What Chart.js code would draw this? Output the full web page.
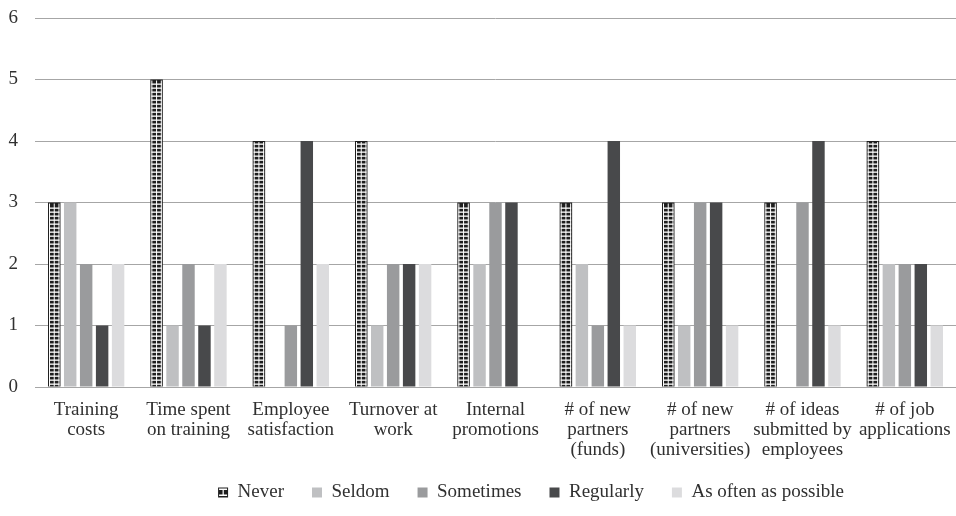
<!DOCTYPE html>
<html>
<head>
<meta charset="utf-8">
<script src="https://cdn.jsdelivr.net/npm/chart.js@4/dist/chart.umd.min.js"></script>
<style>
  html, body { margin: 0; padding: 0; background: #ffffff; }
  #wrap { width: 956px; height: 516px; position: relative; }
</style>
</head>
<body>
<div id="wrap"><canvas id="chart"></canvas></div>
<script>
// Indicators on the x axis (each an array of wrapped lines)
const categories = [
  ["Training", "costs"],
  ["Time spent", "on training"],
  ["Employee", "satisfaction"],
  ["Turnover at", "work"],
  ["Internal", "promotions"],
  ["# of new", "partners", "(funds)"],
  ["# of new", "partners", "(universities)"],
  ["# of ideas", "submitted by", "employees"],
  ["# of job", "applications"]
];

const seriesNames = ["Never", "Seldom", "Sometimes", "Regularly", "As often as possible"];

// Number of responses per frequency answer
const never      = [3, 5, 4, 4, 3, 3, 3, 3, 4];
const seldom     = [3, 1, 0, 1, 2, 2, 1, 0, 2];
const sometimes  = [2, 2, 1, 2, 3, 1, 3, 3, 2];
const regularly  = [1, 1, 4, 2, 3, 4, 3, 4, 2];
const asOften    = [2, 2, 2, 2, 0, 1, 1, 1, 1];

const yTicks = [0, 1, 2, 3, 4, 5, 6];

const fills = ['#1e1e1e', '#bfc0c2', '#9a9b9d', '#48494b', '#dcdcde'];
const values = [never, seldom, sometimes, regularly, asOften];

const font = { family: "'Liberation Serif', 'Times New Roman', serif", size: 19, lineHeight: 1.05 };
const textColor = '#303030';

const LEGEND_TRIM = 10;   // vertical space removed from the legend box
const LEGEND_SHIFT = 53;  // horizontal offset of the legend row

// Legend placement tweaks plus the white cross-hatch on the "Never" bars
const crossHatch = {
  id: 'crossHatch',
  beforeLayout(chart) {
    const lg = chart.legend;
    if (lg && !lg._trimmed) {
      const fit = lg.fit;
      lg.fit = function () { fit.call(this); this.height = Math.max(0, this.height - LEGEND_TRIM); };
      lg._trimmed = true;
    }
  },
  afterLayout(chart) {
    const lg = chart.legend;
    if (!lg) return;
    lg.top -= LEGEND_TRIM; lg.bottom -= LEGEND_TRIM;
    lg.left += LEGEND_SHIFT; lg.right += LEGEND_SHIFT;
  },
  afterDatasetDraw(chart, args) {
    if (args.index !== 0) return;
    const ctx = chart.ctx;
    ctx.save();
    ctx.fillStyle = '#ffffff';
    args.meta.data.forEach(bar => {
      const p = bar.getProps(['x', 'y', 'base', 'width'], true);
      if (p.base - p.y < 2) return;
      const left = p.x - p.width / 2 + 1;
      const right = p.x + p.width / 2 - 1;
      const top = p.y + 1;
      const bottom = p.base;
      const w = right - left;
      ctx.fillRect(left, top, 1, bottom - top);
      ctx.fillRect(left + w / 2 - 0.5, top, 1, bottom - top);
      ctx.fillRect(right - 1, top, 1, bottom - top);
      for (let yy = bottom - 3; yy > top; yy -= 4) {
        ctx.fillRect(left, yy, w, 1.3);
      }
    });
    ctx.restore();
  },
  afterDraw(chart) {
    const lg = chart.legend;
    if (!lg || !lg.legendHitBoxes || !lg.legendHitBoxes.length) return;
    const hb = lg.legendHitBoxes[0];
    const bw = lg.options.labels.boxWidth;
    const bh = lg.options.labels.boxHeight;
    const bx = hb.left;
    const by = hb.top + (hb.height - bh) / 2;
    const ctx = chart.ctx;
    ctx.save();
    ctx.fillStyle = '#ffffff';
    ctx.fillRect(bx + 1, by + 1, bw - 2, 1.5);
    ctx.fillRect(bx + 1, by + bh - 3, bw - 2, 1.5);
    ctx.fillRect(bx + bw / 2 - 0.5, by + 2, 1.2, bh - 4);
    ctx.restore();
  }
};

new Chart(document.getElementById('chart'), {
  type: 'bar',
  data: {
    labels: categories,
    datasets: seriesNames.map((name, i) => ({
      label: name,
      data: values[i],
      backgroundColor: fills[i],
      borderWidth: 0,
      categoryPercentage: 0.78,
      barPercentage: 0.78
    }))
  },
  plugins: [crossHatch],
  options: {
    responsive: true,
    maintainAspectRatio: false,
    animation: false,
    layout: { padding: { top: 18, right: 0, left: 0, bottom: 4 } },
    plugins: {
      tooltip: { enabled: false },
      legend: {
        position: 'bottom',
        labels: {
          font: font,
          color: textColor,
          boxWidth: 10,
          boxHeight: 10,
          padding: 28
        }
      }
    },
    scales: {
      x: {
        grid: { display: false, drawTicks: false },
        border: { display: true, color: '#a6a6a6', width: 1 },
        ticks: { font: font, color: textColor, maxRotation: 0, autoSkip: false, padding: 13 },
        afterFit: (scale) => { scale.height = 78; scale.paddingLeft = 0; scale.paddingRight = 0; }
      },
      y: {
        min: 0,
        max: 6,
        afterBuildTicks: (axis) => { axis.ticks = yTicks.map(v => ({ value: v })); },
        grid: { color: '#a6a6a6', lineWidth: 1, drawTicks: false },
        border: { display: false },
        ticks: { font: font, color: textColor, padding: 17 },
        afterFit: (scale) => { scale.width = 35; scale.paddingTop = 0; scale.paddingBottom = 0; }
      }
    }
  }
});
</script>
</body>
</html>
